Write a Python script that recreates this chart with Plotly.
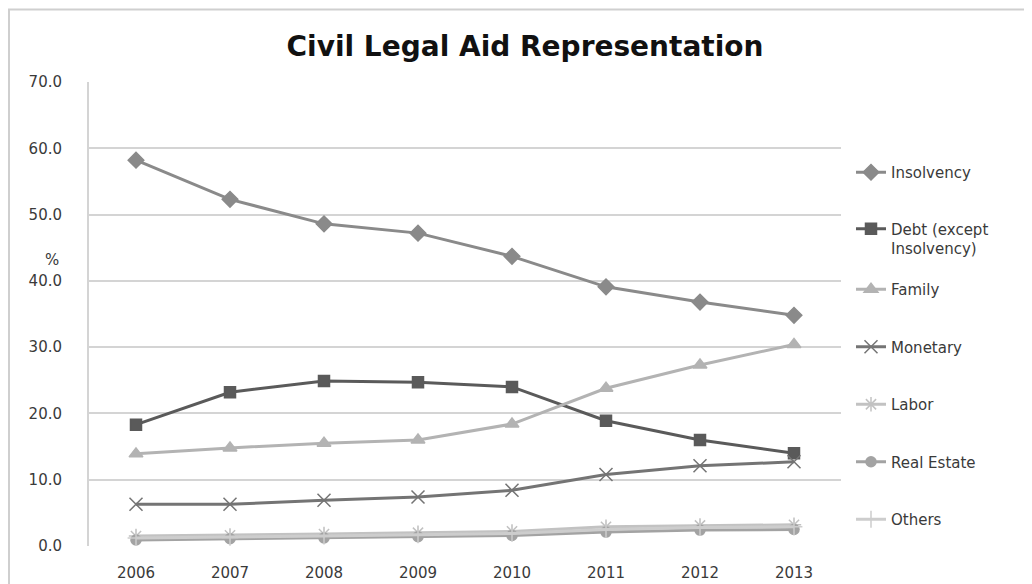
import plotly.graph_objects as go

years = ["2006", "2007", "2008", "2009", "2010", "2011", "2012", "2013"]
insolvency = [58.2, 52.3, 48.6, 47.2, 43.7, 39.1, 36.8, 34.8]
debt = [18.3, 23.2, 24.9, 24.7, 24.0, 18.9, 16.0, 14.0]
family = [13.9, 14.8, 15.5, 16.0, 18.4, 23.8, 27.3, 30.4]
monetary = [6.3, 6.3, 6.9, 7.4, 8.4, 10.8, 12.1, 12.7]
labor = [1.5, 1.6, 1.8, 2.0, 2.2, 2.9, 3.1, 3.2]
real_estate = [0.9, 1.1, 1.2, 1.4, 1.6, 2.1, 2.4, 2.5]
others = [1.2, 1.3, 1.5, 1.7, 1.9, 2.5, 2.8, 2.9]

y_ticks = [0, 10, 20, 30, 40, 50, 60, 70]
y_tick_labels = ["0.0", "10.0", "20.0", "30.0", "40.0", "50.0", "60.0", "70.0"]

series = [
    ("Insolvency", insolvency, "#8a8a8a", "diamond", 12, "legend"),
    ("Debt (except<br>Insolvency)", debt, "#5a5a5a", "square", 11, "legend"),
    ("Family", family, "#b3b3b3", "triangle-up", 12, "legend2"),
    ("Monetary", monetary, "#747474", "x-thin-open", 13, "legend2"),
    ("Labor", labor, "#c2c2c2", "asterisk-open", 12, "legend2"),
    ("Real Estate", real_estate, "#a3a3a3", "circle", 10, "legend2"),
    ("Others", others, "#cdcdcd", "cross-thin-open", 12, "legend2"),
]

fig = go.Figure()
for name, vals, color, sym, size, leg in series:
    fig.add_trace(go.Scatter(
        x=years, y=vals, name=name, mode="lines+markers",
        line=dict(color=color, width=3),
        marker=dict(symbol=sym, size=size, color=color,
                    line=dict(color=color, width=1.5)),
        legendgroup=name, legend=leg,
    ))

# figure is offset by the 8px page margin, so work in figure coordinates
W, H = 1024, 576
L, R, T, B = 81, 1024 - 833, 74, 576 - 538
pw, ph = W - L - R, H - T - B

def px(x):
    return (x - L) / pw

def py(y):
    return (H - B - y) / ph

FONT = "DejaVu Sans"
TXT = "#3a3a3a"

leg_common = dict(
    font=dict(family=FONT, size=15, color=TXT),
    bgcolor="rgba(0,0,0,0)", borderwidth=0,
    valign="top", traceorder="grouped",
    xanchor="left", yanchor="top",
)

fig.update_layout(
    width=W, height=H,
    margin=dict(l=L, r=R, t=T, b=B, autoexpand=False),
    paper_bgcolor="white", plot_bgcolor="white",
    title=dict(text="<b>Civil Legal Aid Representation</b>",
               xref="container", yref="container",
               x=517 / W, xanchor="center", y=1 - 38 / H, yanchor="middle",
               font=dict(family=FONT, size=28, color="#111111")),
    xaxis=dict(type="category", range=[-0.5, 7.5], showgrid=False,
               showline=False, ticks="", zeroline=False, automargin=False,
               tickfont=dict(family=FONT, size=15, color=TXT),
               ticklabelstandoff=16),
    yaxis=dict(range=[0, 70], tickvals=y_ticks, ticktext=y_tick_labels,
               showgrid=True, gridcolor="#d4d4d4", gridwidth=2,
               showline=True, linecolor="#d4d4d4", linewidth=2,
               zeroline=False, ticks="", automargin=False,
               tickfont=dict(family=FONT, size=15, color=TXT),
               ticklabelstandoff=22),
    legend=dict(x=px(843), y=py(148), tracegroupgap=34, **leg_common),
    legend2=dict(x=px(843), y=py(265), tracegroupgap=35, **leg_common),
    showlegend=True,
    annotations=[dict(text="%", xref="paper", yref="paper",
                      x=px(35), y=py(252), showarrow=False,
                      font=dict(family=FONT, size=15, color=TXT))],
    shapes=[dict(type="line", xref="paper", yref="paper",
                 x0=px(0), x1=px(1030), y0=py(1.5), y1=py(1.5),
                 line=dict(color="#cfcfcf", width=2)),
            dict(type="line", xref="paper", yref="paper",
                 x0=px(1), x1=px(1), y0=py(1), y1=py(600),
                 line=dict(color="#cfcfcf", width=2))],
)

fig.write_html("out.html")
